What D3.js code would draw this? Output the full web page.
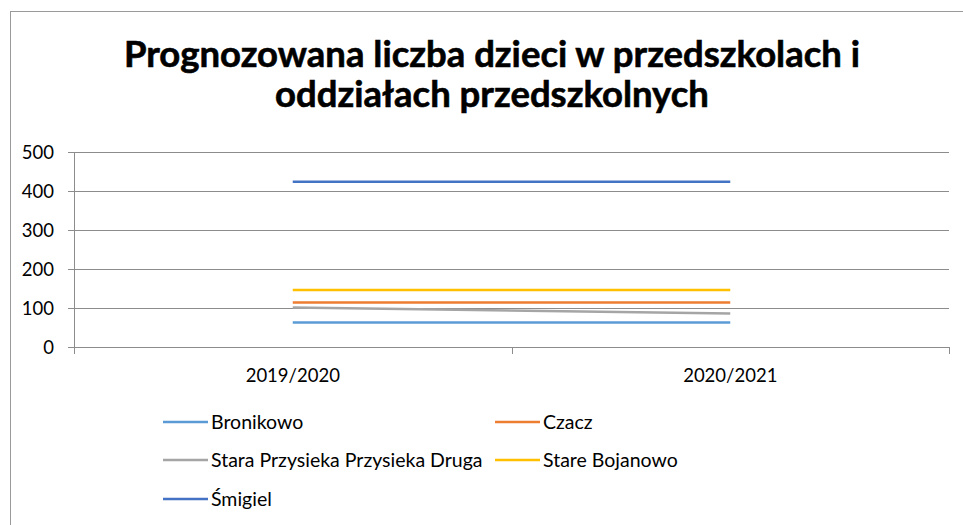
<!DOCTYPE html>
<html>
<head>
<meta charset="utf-8">
<script src="https://cdn.jsdelivr.net/npm/d3@7"></script>
<style>
  body { margin: 0; background: #fff; }
  text { font-family: Lato, "Open Sans", sans-serif; fill: #000; }
</style>
</head>
<body>
<div id="container"></div>
<script>
const categories = ["2019/2020", "2020/2021"];
const seriesNames = ["Bronikowo", "Czacz", "Stara Przysieka Przysieka Druga", "Stare Bojanowo", "Śmigiel"];
const bronikowo = [63, 63];
const czacz = [114, 114];
const staraPrzysieka = [101, 86];
const stareBojanowo = [146, 146];
const smigiel = [424, 424];
const yTicks = [0, 100, 200, 300, 400, 500];
const titleLines = ["Prognozowana liczba dzieci w przedszkolach i", "oddziałach przedszkolnych"];

const colors = ["#5b9bd5", "#ed7d31", "#a5a5a5", "#ffc000", "#4472c4"];
const series = [bronikowo, czacz, staraPrzysieka, stareBojanowo, smigiel].map((v, i) => ({
  name: seriesNames[i],
  values: v,
  color: colors[i],
}));

const W = 963, H = 525;
const plot = { left: 74, right: 949, top: 152, bottom: 347 };

const svg = d3
  .select("#container")
  .append("svg")
  .attr("width", W)
  .attr("height", H);

// chart frame
svg
  .append("rect")
  .attr("x", 10.5)
  .attr("y", 11.5)
  .attr("width", W + 10)
  .attr("height", H + 10)
  .attr("fill", "#fff")
  .attr("stroke", "#9a9a9a");

// title
svg
  .append("g")
  .selectAll("text")
  .data(titleLines)
  .enter()
  .append("text")
  .attr("x", 492)
  .attr("y", (d, i) => 67 + i * 40)
  .attr("text-anchor", "middle")
  .style("font-size", "36.5px")
  .style("font-weight", "bold")
  .style("stroke", "#000")
  .style("stroke-width", 0.6)
  .text((d) => d);

const x = d3.scaleBand().domain(categories).range([plot.left, plot.right]);
const y = d3.scaleLinear().domain([0, 500]).range([plot.bottom, plot.top]);

// gridlines + y labels
const yAxis = d3
  .axisLeft(y)
  .tickValues(yTicks)
  .tickSize(0)
  .tickPadding(20)
  .tickFormat(d3.format("d"));
const gy = svg
  .append("g")
  .attr("transform", `translate(${plot.left},0)`)
  .call(yAxis);
gy.select(".domain").remove();
gy.selectAll("line")
  .attr("x1", -6)
  .attr("x2", plot.right - plot.left)
  .attr("stroke", "#8c8c8c");
gy.selectAll("text").style("font-size", "18.5px").attr("dy", "0.35em");

// vertical axis line
svg
  .append("line")
  .attr("x1", plot.left + 0.5)
  .attr("x2", plot.left + 0.5)
  .attr("y1", plot.top)
  .attr("y2", plot.bottom + 7)
  .attr("stroke", "#8c8c8c");

// x axis
const xAxis = d3.axisBottom(x).tickSize(0).tickPadding(22);
const gx = svg
  .append("g")
  .attr("transform", `translate(0,${plot.bottom})`)
  .call(xAxis);
gx.select(".domain").remove();
gx.selectAll("text").style("font-size", "18.5px");

// category boundary ticks
const bounds = [plot.left, x(categories[1]), plot.right];
svg
  .append("g")
  .selectAll("line")
  .data(bounds)
  .enter()
  .append("line")
  .attr("x1", (d) => Math.round(d) + 0.5)
  .attr("x2", (d) => Math.round(d) + 0.5)
  .attr("y1", plot.bottom)
  .attr("y2", plot.bottom + 7)
  .attr("stroke", "#8c8c8c");

// lines
const line = d3
  .line()
  .x((d, i) => x(categories[i]) + x.bandwidth() / 2)
  .y((d) => y(d));
svg
  .append("g")
  .selectAll("path")
  .data(series)
  .enter()
  .append("path")
  .attr("d", (d) => line(d.values))
  .attr("fill", "none")
  .attr("stroke", (d) => d.color)
  .attr("stroke-width", 2.5);

// legend
const legendPos = [
  [163, 422],
  [495, 422],
  [163, 460],
  [495, 460],
  [163, 499],
];
const legend = svg
  .append("g")
  .selectAll("g")
  .data(series)
  .enter()
  .append("g")
  .attr("transform", (d, i) => `translate(${legendPos[i][0]},${legendPos[i][1]})`);
legend
  .append("line")
  .attr("x1", 0)
  .attr("x2", 45)
  .attr("stroke", (d) => d.color)
  .attr("stroke-width", 2.5);
legend
  .append("text")
  .attr("x", 48)
  .attr("dy", "0.35em")
  .style("font-size", "19.5px")
  .text((d) => d.name);
</script>
</body>
</html>
